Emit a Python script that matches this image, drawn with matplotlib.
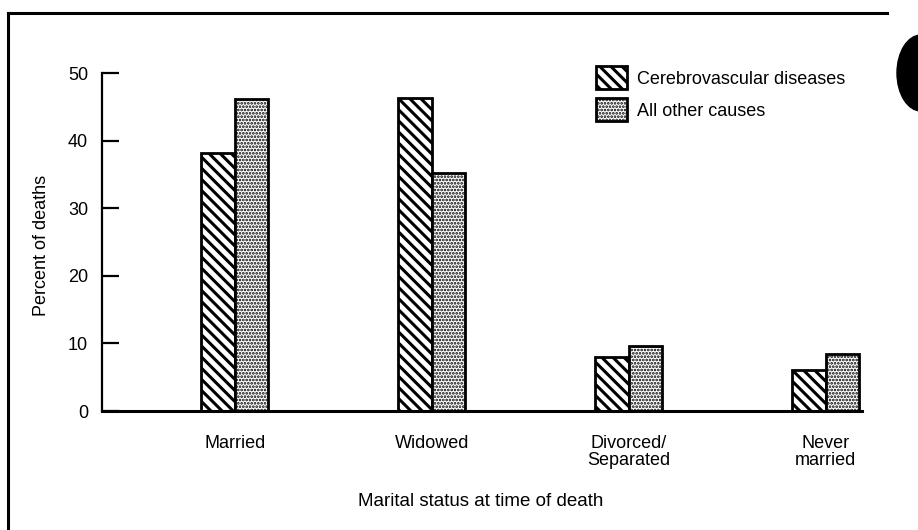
import numpy as np
import matplotlib.pyplot as plt
from matplotlib.lines import Line2D
from matplotlib.patches import Ellipse

plt.rcParams['font.family'] = ['Liberation Sans', 'DejaVu Sans']
plt.rcParams['hatch.color'] = 'black'

# Data
categories = ["Married", "Widowed", "Divorced/\nSeparated", "Never\nmarried"]
cerebro = [38.2, 46.3, 8.0, 6.1]
other = [46.2, 35.2, 9.6, 8.4]
series_names = ["Cerebrovascular diseases", "All other causes"]
yticks = [0, 10, 20, 30, 40, 50]

fs = 13
hatches = ['\\\\\\', '.....']
hatch_lw = [2.2, 1.3]

fig = plt.figure(figsize=(9.18, 5.30), dpi=100)
ax = fig.add_axes([102 / 918, 1 - 411 / 530, 760 / 918, 338 / 530])

x = np.arange(len(categories))
w = 0.17
for i, vals in enumerate([cerebro, other]):
    with plt.rc_context({'hatch.linewidth': hatch_lw[i]}):
        ax.bar(x + (i - 0.5) * w, vals, w, color='white', edgecolor='black',
               linewidth=2, hatch=hatches[i], label=series_names[i])

ax.set_xlim(-0.675, 3.185)
ax.set_ylim(0, 50)
ax.set_yticks(yticks)
ax.set_xticks(x)
ax.set_xticklabels(categories, fontsize=fs, linespacing=1.05)
ax.tick_params(axis='y', direction='in', length=12, width=1.6, pad=10, labelsize=fs)
ax.tick_params(axis='x', length=0, pad=17)

for s in ['top', 'right']:
    ax.spines[s].set_visible(False)
ax.spines['left'].set_linewidth(1.6)
ax.spines['bottom'].set_linewidth(2.2)

fig.text(42 / 918, 1 - 245 / 530, "Percent of deaths", rotation=90,
         ha='center', va='center', fontsize=fs)
fig.text(481 / 918, 1 - 502 / 530, "Marital status at time of death",
         ha='center', va='center', fontsize=13.5)

leg = ax.legend(loc='upper left', bbox_to_anchor=(596 / 918, 1 - 66 / 530),
                bbox_transform=fig.transFigure, frameon=False, fontsize=fs,
                handlelength=1.72, handleheight=1.6, labelspacing=0.5,
                handletextpad=0.55, borderpad=0, borderaxespad=0)
for p, lw in zip(leg.get_patches(), hatch_lw):
    if hasattr(p, 'set_hatch_linewidth'):
        p.set_hatch_linewidth(lw)
    else:
        p._hatch_linewidth = lw

# page border and scan artifact
fig.add_artist(Line2D([8 / 918, 8 / 918], [0, 1 - 13 / 530], color='black',
                      lw=2.2, transform=fig.transFigure))
fig.add_artist(Line2D([8 / 918, 887 / 918], [1 - 13 / 530, 1 - 13 / 530],
                      color='black', lw=2.2, transform=fig.transFigure))
fig.add_artist(Ellipse((921 / 918, 1 - 73 / 530), 48 / 918, 76 / 530,
                       color='black', transform=fig.transFigure))

fig.savefig("out.png", dpi=100)
